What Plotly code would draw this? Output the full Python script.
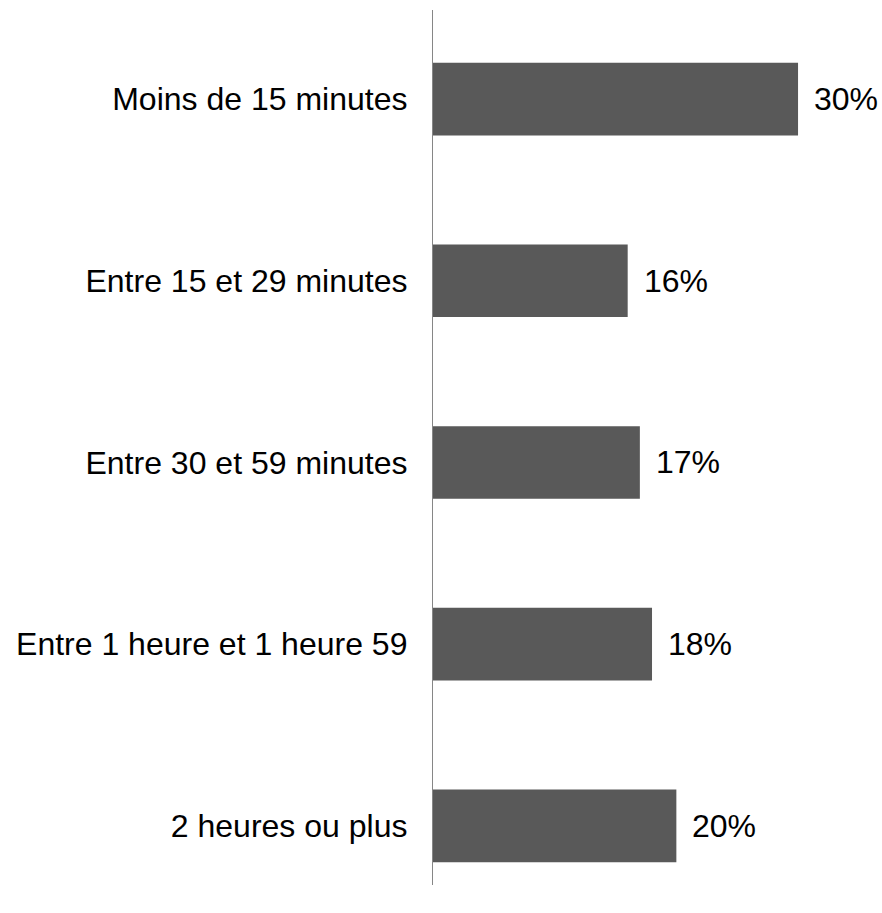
import plotly.graph_objects as go

categories = ["Moins de 15 minutes", "Entre 15 et 29 minutes", "Entre 30 et 59 minutes",
              "Entre 1 heure et 1 heure 59", "2 heures ou plus"]
values = [30, 16, 17, 18, 20]
labels = ["30%", "16%", "17%", "18%", "20%"]

FONT = dict(family="Liberation Sans, Arial, sans-serif", size=32, color="#000000")

fig = go.Figure()
fig.add_trace(go.Bar(
    y=categories, x=values, orientation="h",
    marker=dict(color="#595959", line=dict(width=0)),
    width=0.4,
    hoverinfo="skip",
))
for c, v, t in zip(categories, values, labels):
    fig.add_annotation(x=v, y=c, text=t, showarrow=False, xanchor="left",
                       yanchor="middle", xshift=14, font=FONT)

fig.update_layout(
    width=882, height=913,
    margin=dict(l=433, r=0, t=10, b=28),
    paper_bgcolor="white", plot_bgcolor="white",
    showlegend=False,
    font=FONT,
)
fig.update_xaxes(range=[0, 36.9], visible=False, showgrid=False, zeroline=False)
fig.update_yaxes(categoryorder="array", categoryarray=categories,
                 range=[4.325, -0.49], showgrid=False, zeroline=False,
                 showline=True, linecolor="#868686", linewidth=1.3,
                 ticks="", ticklabelstandoff=18, tickfont=FONT)

fig.write_html("out.html",
               config={"displayModeBar": False},
               post_script="document.body.style.margin='0';document.body.style.overflow='hidden';")
